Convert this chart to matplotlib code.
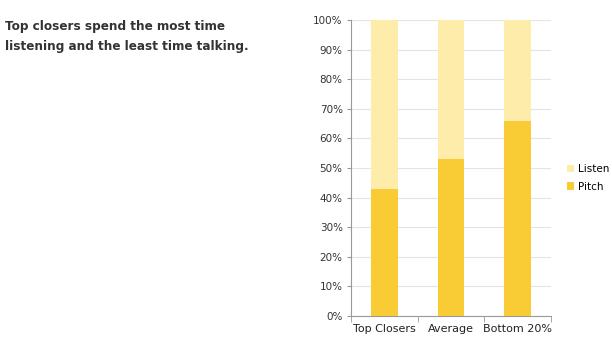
import numpy as np
import matplotlib.pyplot as plt

categories = ['Top Closers', 'Average', 'Bottom 20%']
pitch = [43, 53, 66]
listen = [57, 47, 34]
yticks = [0, 10, 20, 30, 40, 50, 60, 70, 80, 90, 100]

c_pitch = '#F9CB35'
c_listen = '#FDECAA'

fig = plt.figure(figsize=(6.12, 3.55), dpi=100)
ax = fig.add_axes([351/612, 1-316/355, 200/612, 296/355])

x = np.arange(len(categories))
ax.bar(x, pitch, width=0.4, color=c_pitch, label='Pitch', zorder=3)
ax.bar(x, listen, width=0.4, bottom=pitch, color=c_listen, label='Listen', zorder=3)

ax.set_xlim(-0.5, 2.5)
ax.set_ylim(0, 100)
ax.set_yticks(yticks)
ax.set_yticklabels([f'{v}%' for v in yticks], fontsize=7.5, color='#333333')
ax.set_xticks(x)
ax.set_xticklabels(categories, fontsize=8, color='#222222')
ax.set_xticks([-0.5, 0.5, 1.5, 2.5], minor=True)
ax.tick_params(axis='x', which='major', length=0, pad=6)
ax.tick_params(axis='x', which='minor', length=4, color='#999999')
ax.tick_params(axis='y', length=3, color='#999999', pad=3)
ax.grid(axis='y', color='#e4e4e4', linewidth=0.8, zorder=0)
for s in ['top', 'right']:
    ax.spines[s].set_visible(False)
ax.spines['left'].set_color('#999999')
ax.spines['bottom'].set_color('#999999')

h, l = ax.get_legend_handles_labels()
fig.legend(h[::-1], l[::-1], loc='center left', bbox_to_anchor=(563/612, 1-178/355),
           frameon=False, fontsize=7.5, handlelength=0.7, handleheight=0.7,
           handletextpad=0.3, labelspacing=0.7, borderaxespad=0)

fig.text(5/612, 1-36.5/355, 'Top closers spend the most time\nlistening and the least time talking.',
         fontsize=9.6, fontweight='bold', fontstretch='condensed', color='#333333',
         va='center', linespacing=1.78, family='DejaVu Sans')

fig.savefig('out.png', dpi=100)
